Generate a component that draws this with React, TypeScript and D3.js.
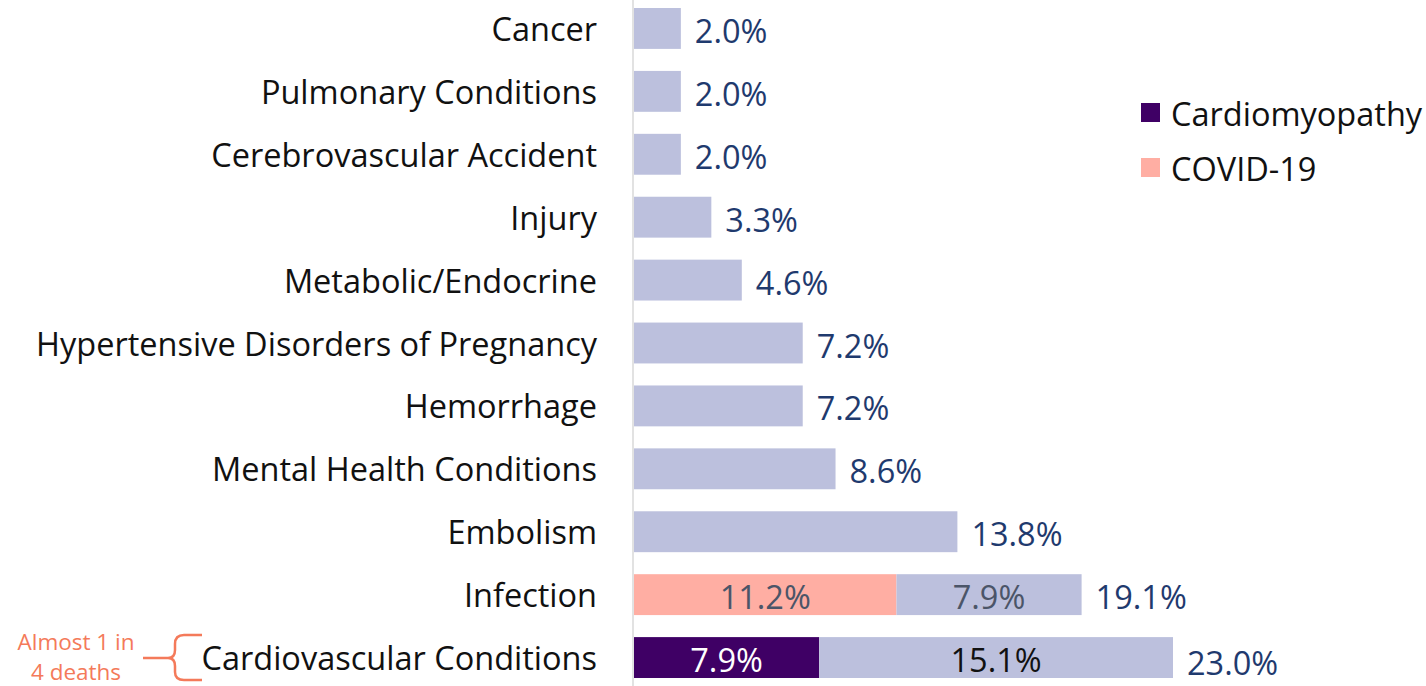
import React from "react";
import * as d3 from "d3";

const categories = [
  "Cancer",
  "Pulmonary Conditions",
  "Cerebrovascular Accident",
  "Injury",
  "Metabolic/Endocrine",
  "Hypertensive Disorders of Pregnancy",
  "Hemorrhage",
  "Mental Health Conditions",
  "Embolism",
  "Infection",
  "Cardiovascular Conditions",
];
// highlighted sub-cause portion (Cardiomyopathy / COVID-19)
const highlightValues = [0, 0, 0, 0, 0, 0, 0, 0, 0, 11.2, 7.9];
const highlightSeries = ["", "", "", "", "", "", "", "", "", "COVID-19", "Cardiomyopathy"];
// remaining portion
const restValues = [2.0, 2.0, 2.0, 3.3, 4.6, 7.2, 7.2, 8.6, 13.8, 7.9, 15.1];
const totals = [2.0, 2.0, 2.0, 3.3, 4.6, 7.2, 7.2, 8.6, 13.8, 19.1, 23.0];
const legendItems = ["Cardiomyopathy", "COVID-19"];

const W = 1426;
const H = 686;
const FONT = "'Open Sans', Lato, sans-serif";
const FS = 32.5;
const colors: Record<string, string> = {
  Cardiomyopathy: "#3f0065",
  "COVID-19": "#ffaea3",
  rest: "#bcc0dd",
};
const innerText: Record<string, string> = {
  Cardiomyopathy: "#ffffff",
  "COVID-19": "#4b5568",
};

export default function App() {
  const x = d3.scaleLinear().domain([0, 23]).range([634, 1173]);
  const y = d3
    .scaleBand<string>()
    .domain(categories)
    .range([-3, 689])
    .paddingInner(0.35)
    .paddingOuter(0.175);
  const bh = y.bandwidth();

  return (
    <svg width={W} height={H} style={{ position: "absolute", left: 0, top: 0 }} fontFamily={FONT}>
      <rect width={W} height={H} fill="#fff" />
      {categories.map((c, i) => {
        const y0 = y(c)!;
        const cy = y0 + bh / 2;
        const h = highlightValues[i];
        const r = restValues[i];
        const hasSplit = h > 0;
        return (
          <g key={c}>
            {hasSplit && (
              <rect x={x(0)} y={y0} width={x(h) - x(0)} height={bh} fill={colors[highlightSeries[i]]} />
            )}
            <rect x={x(h)} y={y0} width={x(h + r) - x(h)} height={bh} fill={colors.rest} />
            <text x={597} y={cy} textAnchor="end" dominantBaseline="central" fontSize={FS} fill="#111">
              {c}
            </text>
            {hasSplit && (
              <>
                <text
                  x={(x(0) + x(h)) / 2}
                  y={cy + 2}
                  textAnchor="middle"
                  dominantBaseline="central"
                  fontSize={FS}
                  fill={innerText[highlightSeries[i]]}
                >
                  {h.toFixed(1)}%
                </text>
                <text
                  x={(x(h) + x(h + r)) / 2}
                  y={cy + 2}
                  textAnchor="middle"
                  dominantBaseline="central"
                  fontSize={FS}
                  fill={highlightSeries[i] === "COVID-19" ? "#4b5568" : "#111"}
                >
                  {r.toFixed(1)}%
                </text>
              </>
            )}
            <text
              x={x(totals[i]) + 14}
              y={cy + (i === categories.length - 1 ? 5 : 2)}
              dominantBaseline="central"
              fontSize={FS}
              fill="#1f3a6e"
            >
              {totals[i].toFixed(1)}%
            </text>
          </g>
        );
      })}
      <line x1={633} x2={633} y1={0} y2={H} stroke="#d9d9d9" strokeWidth={1.5} />

      {legendItems.map((l, i) => (
        <g key={l} transform={`translate(1141, ${103 + i * 55})`}>
          <rect width={19} height={19} fill={colors[l]} />
          <text x={30} y={10} dominantBaseline="central" fontSize={FS} fill="#111">
            {l}
          </text>
        </g>
      ))}

      <g fill="#f47a5a" stroke="none">
        <text x={76} y={641} textAnchor="middle" dominantBaseline="central" fontSize={22.5}>
          Almost 1 in
        </text>
        <text x={76} y={671} textAnchor="middle" dominantBaseline="central" fontSize={22.5}>
          4 deaths
        </text>
      </g>
      <path
        d="M143,658 L168,658 M202,635 L184,635 Q175,635 175,644 L175,650 Q175,658 168,658 Q175,658 175,666 L175,672 Q175,680 184,680 L202,680"
        fill="none"
        stroke="#f47a5a"
        strokeWidth={2.5}
      />
    </svg>
  );
}
